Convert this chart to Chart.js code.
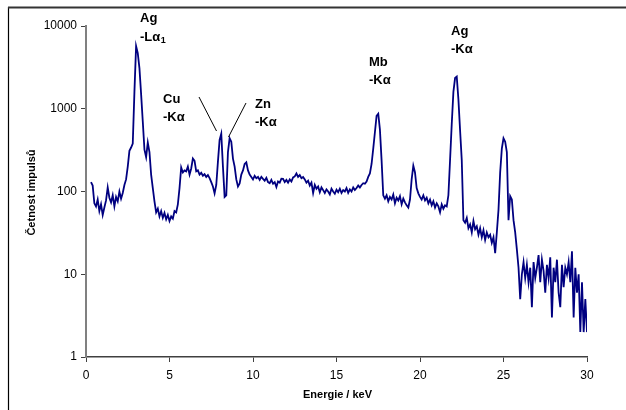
<!DOCTYPE html>
<html>
<head>
<meta charset="utf-8">
<script src="https://cdn.jsdelivr.net/npm/chart.js@4/dist/chart.umd.min.js"></script>
<style>
  html, body { margin: 0; padding: 0; background: #fff; }
  #wrap { position: relative; width: 626px; height: 410px; }
  canvas { display: block; }
</style>
</head>
<body>
<div id="wrap"><canvas id="c" width="626" height="410"></canvas></div>
<script>
// Spectrum channels: first channel energy and channel width (keV)
const channelStart = 0.3;
const channelWidth = 0.1;

// Counts per channel (0.3 ... 30.0 keV)
const counts = [
  130,118,72,66,80,58,70,                          // 0.3-0.9
  52,64,78,112,84,74,90,66,86,76,                  // 1.0-1.9
  100,82,96,120,140,200,310,340,380,1600,          // 2.0-2.9
  5700,4700,3100,1500,700,320,260,390,300,160,     // 3.0-3.9
  110,76,56,62,50,58,48,55,46,52,                  // 4.0-4.9
  44,50,47,58,56,70,110,195,170,180,               // 5.0-5.9
  175,200,160,190,250,235,175,180,160,168,         // 6.0-6.9
  155,162,150,158,145,130,115,95,120,230,          // 7.0-7.9
  420,500,200,86,90,300,440,400,250,200,           // 8.0-8.9
  140,115,125,160,180,215,225,180,160,150,         // 9.0-9.9
  140,155,145,150,138,150,142,135,146,130,         // 10.0-10.9
  126,138,124,130,113,132,128,143,142,130,         // 11.0-11.9
  138,128,140,132,148,152,165,150,158,145,         // 12.0-12.9
  150,140,128,135,118,128,96,120,108,115,          // 13.0-13.9
  98,112,104,96,106,100,92,108,100,94,             // 14.0-14.9
  105,98,108,96,104,100,110,96,106,100,            // 15.0-15.9
  112,104,110,118,112,120,126,124,132,150,         // 16.0-16.9
  165,215,330,520,820,870,560,238,90,82,           // 17.0-17.9
  90,76,86,80,92,72,84,78,88,70,                   // 18.0-18.9
  82,74,68,64,80,140,205,170,110,95,               // 19.0-19.9
  86,80,90,78,84,72,80,68,76,64,                   // 20.0-20.9
  72,66,56,70,62,68,66,90,240,650,                 // 21.0-21.9
  1600,2350,2450,1300,550,240,45,42,48,36,         // 22.0-22.9
  40,32,44,35,38,30,36,28,34,26,                   // 23.0-23.9
  32,28,30,24,28,18,32,60,170,330,                 // 24.0-24.9
  440,400,300,45,88,80,45,32,20,12,                // 25.0-25.9
  5,10,14,9,13,8,12,4,14,9,                        // 26.0-26.9
  12,17,8,15,11,6,13,9,16,3,                       // 27.0-27.9
  12,8,15,6,4,13,7,12,10,14,                       // 28.0-28.9
  8,19,3,12,6,10,2,8,2,5,                          // 29.0-29.9
  2                                                // 30.0
];

const yTickValues = [1, 10, 100, 1000, 10000];
const xTickStep = 5;
const xTitle = 'Energie / keV';
const yTitle = 'Četnost impulsů';

const points = counts.map((c, i) => ({ x: +(channelStart + i * channelWidth).toFixed(2), y: c }));

const FONT = '"Liberation Sans", Arial, sans-serif';

const decor = {
  id: 'decor',
  beforeDraw(chart) {
    const ctx = chart.ctx;
    ctx.save();
    ctx.fillStyle = '#fff';
    ctx.fillRect(0, 0, chart.width, chart.height);
    // page frame
    ctx.strokeStyle = '#000';
    ctx.lineWidth = 1.2;
    ctx.beginPath(); ctx.moveTo(8.5, 7); ctx.lineTo(8.5, 410); ctx.stroke();
    ctx.strokeStyle = '#333';
    ctx.lineWidth = 2;
    ctx.beginPath(); ctx.moveTo(8, 7.5); ctx.lineTo(626, 7.5); ctx.stroke();
    ctx.restore();
  },
  afterDraw(chart) {
    const ctx = chart.ctx;
    const a = chart.chartArea;
    ctx.save();
    ctx.fillStyle = '#000';
    // axis titles
    ctx.font = 'bold 11px ' + FONT;
    ctx.textAlign = 'center';
    ctx.textBaseline = 'middle';
    ctx.fillText(xTitle, (a.left + a.right) / 2 + 1, 395);
    ctx.save();
    ctx.translate(32, (a.top + a.bottom) / 2 + 1);
    ctx.rotate(-Math.PI / 2);
    ctx.fillText(yTitle, 0, 0);
    ctx.restore();

    // peak labels
    ctx.font = 'bold 13px ' + FONT;
    ctx.textAlign = 'left';
    ctx.textBaseline = 'middle';
    const lab = (t1, t2, x, y) => {
      ctx.fillText(t1, x, y);
      ctx.fillText(t2, x, y + 18.5);
    };
    // Ag -Lα1
    ctx.fillText('Ag', 140, 18.5);
    ctx.fillText('-Lα', 140, 37.5);
    const w = ctx.measureText('-Lα').width;
    ctx.font = 'bold 9px ' + FONT;
    ctx.fillText('1', 140 + w + 0.5, 41);
    ctx.font = 'bold 13px ' + FONT;
    lab('Cu', '-Kα', 163, 99);
    lab('Zn', '-Kα', 255, 104);
    lab('Mb', '-Kα', 369, 62);
    lab('Ag', '-Kα', 451, 31);

    // leader lines
    ctx.strokeStyle = '#000';
    ctx.lineWidth = 1;
    ctx.beginPath();
    ctx.moveTo(199, 97); ctx.lineTo(216.5, 131);
    ctx.moveTo(246, 103); ctx.lineTo(228.5, 137);
    ctx.stroke();
    ctx.restore();
  }
};

new Chart(document.getElementById('c'), {
  type: 'line',
  data: {
    datasets: [{
      data: points,
      borderColor: '#000080',
      borderWidth: 1.8,
      pointRadius: 0,
      tension: 0,
      fill: false
    }]
  },
  options: {
    responsive: false,
    animation: false,
    parsing: true,
    layout: { padding: { top: 26, right: 39, left: 0, bottom: 0 } },
    plugins: { legend: { display: false }, tooltip: { enabled: false } },
    scales: {
      x: {
        type: 'linear',
        min: 0, max: 30,
        afterFit(s) { s.height = 53; },
        ticks: { stepSize: xTickStep, color: '#000', font: { family: FONT, size: 12 }, padding: 6, maxRotation: 0 },
        grid: { drawOnChartArea: false, drawTicks: true, tickLength: 5, tickColor: '#404040', tickWidth: 1 },
        border: { display: true, color: '#404040', width: 1.5 }
      },
      y: {
        type: 'logarithmic',
        min: 1, max: 10000,
        afterFit(s) { s.width = 86; },
        afterBuildTicks(s) { s.ticks = yTickValues.map(v => ({ value: v })); },
        ticks: {
          color: '#000', font: { family: FONT, size: 12 }, padding: 4,
          callback: v => String(v)
        },
        grid: { drawOnChartArea: false, drawTicks: true, tickLength: 5, tickColor: '#404040', tickWidth: 1 },
        border: { display: true, color: '#808080', width: 2 }
      }
    }
  },
  plugins: [decor]
});
</script>
</body>
</html>
